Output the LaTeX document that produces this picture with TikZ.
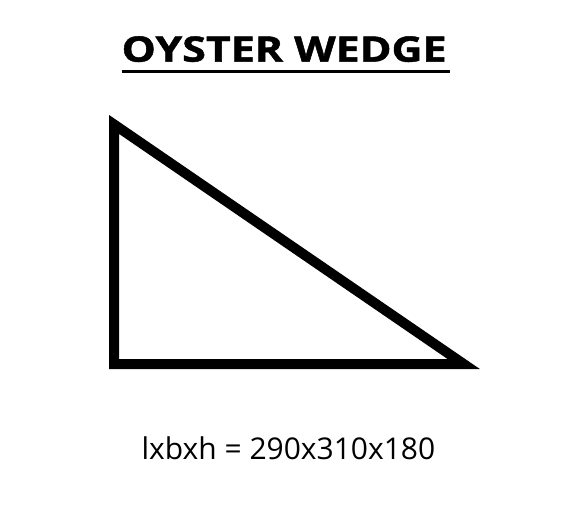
\documentclass[tikz,border=0pt]{standalone}
\usepackage{fontspec}
\setmainfont{Open Sans}
\newfontfamily\titlefont[FakeBold=1.2]{Open Sans Bold}
\begin{document}
\begin{tikzpicture}[x=1pt,y=-1pt,
  titletext/.style={inner sep=0pt, anchor=base},
  dimtext/.style={inner sep=0pt, anchor=base},
  wedge/.style={line width=10pt, line join=miter, draw=black}]
\useasboundingbox[fill=white] (0,0) rectangle (564,516);
\node[titletext] (title) at (284.2,61.7) {\resizebox{325pt}{25.5pt}{\fontsize{35}{40}\selectfont\titlefont OYSTER WEDGE}};
\coordinate (ulA) at (121.5,71.7);
\coordinate (ulB) at (449.5,71.7);
\draw[line width=3pt] (ulA) -- (ulB);
\coordinate (top) at (114,124.4);
\coordinate (corner) at (114,364);
\coordinate (tip) at (463.7,364);
\draw[wedge] (top) -- (corner) -- (tip) -- cycle;
\node[dimtext] (dims) at (288.4,459.3) {\resizebox{293.5pt}{!}{\fontsize{29}{34}\selectfont lxbxh = 290x310x180}};
\end{tikzpicture}
\end{document}
